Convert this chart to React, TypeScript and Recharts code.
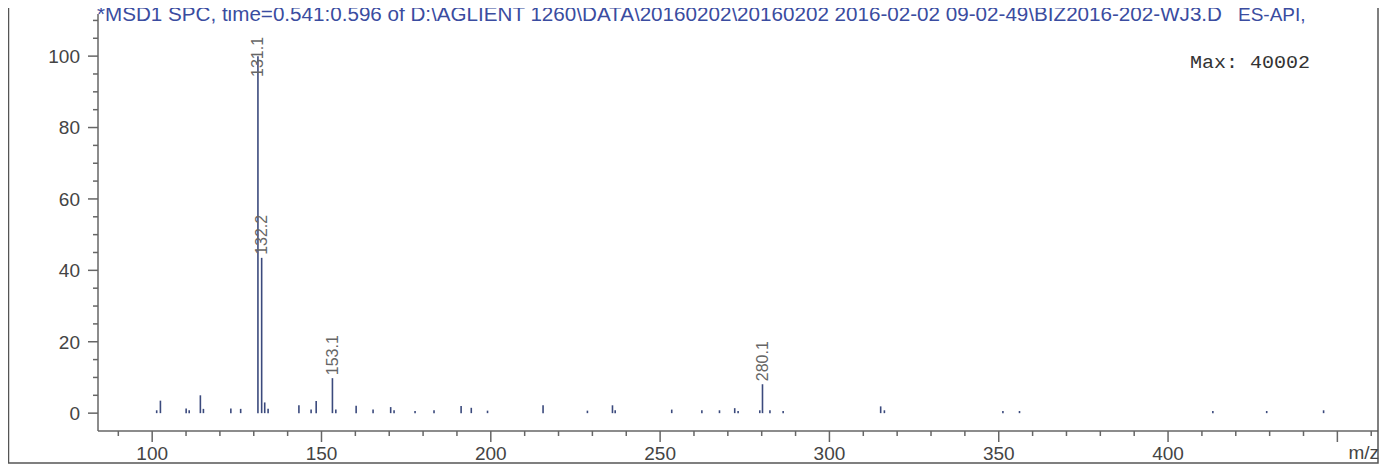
import { Bar, BarChart, LabelList, XAxis, YAxis } from "recharts";

// m/z of every line in the spectrum and its relative abundance (% of max)
const mzValues = [
  101.2, 102.3, 109.9, 110.8, 114.1, 115.0, 123.1, 126.0, 131.1, 132.2, 133.1,
  134.1, 143.2, 146.8, 148.3, 153.1, 154.1, 160.1, 165.1, 170.3, 171.3, 177.5,
  183.1, 191.1, 194.1, 198.9, 215.3, 228.4, 235.8, 236.6, 253.3, 262.2, 267.4,
  271.9, 272.9, 279.3, 280.1, 282.3, 286.2, 315.0, 316.1, 351.1, 356.0, 413.1,
  429.0, 445.8,
];
const abundance = [
  0.8, 3.5, 1.3, 0.8, 5.0, 1.2, 1.3, 1.2, 100, 43.5, 3.0,
  1.2, 2.2, 1.0, 3.4, 9.8, 1.0, 2.1, 1.0, 1.7, 0.8, 0.6,
  0.8, 2.0, 1.5, 0.7, 2.2, 0.7, 2.2, 0.8, 1.0, 0.8, 0.8,
  1.4, 0.6, 0.8, 8.1, 0.8, 0.6, 1.9, 0.8, 0.6, 0.6, 0.6,
  0.6, 0.8,
];
const labeledMz = [131.1, 132.2, 153.1, 280.1];

const xTicks = [90, 100, 110, 120, 130, 140, 150, 160, 170, 180, 190, 200, 210, 220, 230, 240, 250, 260, 270, 280, 290, 300, 310, 320, 330, 340, 350, 360, 370, 380, 390, 400, 410, 420, 430, 440, 450, 460];
const xLabelTicks = [100, 150, 200, 250, 300, 350, 400];
const yTicks = [0, 5, 10, 15, 20, 25, 30, 35, 40, 45, 50, 55, 60, 65, 70, 75, 80, 85, 90, 95, 100, 105, 110];
const yLabelTicks = [0, 20, 40, 60, 80, 100];

const title =
  "*MSD1 SPC, time=0.541:0.596 of D:\\AGLIENT 1260\\DATA\\20160202\\20160202 2016-02-02 09-02-49\\BIZ2016-202-WJ3.D";
const titleTail = "ES-API,";
const maxText = "Max: 40002";

const data = mzValues.map((m, i) => ({
  mz: m,
  pct: abundance[i],
  label: labeledMz.includes(m) ? m.toFixed(1) : undefined,
}));

const FONT = "'Liberation Sans', Arial, sans-serif";
const AXIS = "#666";
const TEXT = "#444";

function XTick(props: any) {
  const { x, y, payload } = props;
  const v = payload.value as number;
  const major = v % 50 === 0;
  return (
    <g>
      <line x1={x} x2={x} y1={y} y2={y + (major ? 11 : 5)} stroke={AXIS} strokeWidth={1.5} />
      {xLabelTicks.includes(v) && (
        <text x={x} y={y + 29} textAnchor="middle" fontSize={19} fill={TEXT} fontFamily={FONT}>
          {v}
        </text>
      )}
    </g>
  );
}

function YTick(props: any) {
  const { x, y, payload } = props;
  const v = payload.value as number;
  const major = yLabelTicks.includes(v);
  return (
    <g>
      <line x1={x} x2={x - (major ? 10 : 5)} y1={y} y2={y} stroke={AXIS} strokeWidth={1.5} />
      {major && (
        <text x={x - 18} y={y} dy="0.36em" textAnchor="end" fontSize={19} fill={TEXT} fontFamily={FONT}>
          {v}
        </text>
      )}
    </g>
  );
}

function PeakLabel(props: any) {
  const { x, y, width, value } = props;
  if (!value) return null;
  const cx = x + width / 2;
  // keep the tallest label inside the frame
  const ay = Math.max(y - 3, 77);
  return (
    <text
      x={cx}
      y={ay}
      transform={`rotate(-90, ${cx}, ${ay})`}
      textAnchor="start"
      dominantBaseline="central"
      fontSize={16}
      fill="#666"
      fontFamily={FONT}
    >
      {value}
    </text>
  );
}

export default function App() {
  return (
    <div style={{ position: "relative", width: 1389, height: 476, margin: -8, background: "#fff" }}>
      <BarChart
        width={1389}
        height={476}
        data={data}
        margin={{ top: 14, right: 11, bottom: 0, left: 0 }}
      >
        <XAxis
          dataKey="mz"
          type="number"
          domain={[84, 462]}
          allowDataOverflow
          ticks={xTicks}
          interval={0}
          height={45}
          tickSize={0}
          tickMargin={0}
          tick={<XTick />}
          stroke={AXIS}
          strokeWidth={1.5}
        />
        <YAxis
          type="number"
          domain={[-5, 111.8]}
          allowDataOverflow
          ticks={yTicks}
          interval={0}
          width={98}
          tickSize={0}
          tickMargin={0}
          tick={<YTick />}
          stroke={AXIS}
          strokeWidth={1.5}
        />
        <Bar dataKey="pct" fill="#3b4a7d" barSize={1.6} isAnimationActive={false}>
          <LabelList dataKey="label" content={<PeakLabel />} />
        </Bar>
      </BarChart>
      <svg
        width={1389}
        height={476}
        style={{ position: "absolute", left: 0, top: 0, pointerEvents: "none" }}
      >
        <rect x={8.5} y={6.5} width={1369.5} height={456.5} fill="none" stroke="#555" strokeWidth={1.5} />
        <text
          x={97}
          y={21}
          fontSize={20}
          fill="#3a4ca0"
          fontFamily={FONT}
          textLength={1125}
          lengthAdjust="spacingAndGlyphs"
        >
          {title}
        </text>
        <text x={1238} y={21} fontSize={19} fill="#3a4ca0" fontFamily={FONT}>
          {titleTail}
        </text>
        <text
          x={1190}
          y={68}
          fontSize={19}
          fill="#333"
          fontFamily="'Liberation Mono', 'Courier New', monospace"
          textLength={120}
          lengthAdjust="spacingAndGlyphs"
        >
          {maxText}
        </text>
        <text x={1379} y={459} textAnchor="end" fontSize={19} fill={TEXT} fontFamily={FONT}>
          m/z
        </text>
      </svg>
    </div>
  );
}
